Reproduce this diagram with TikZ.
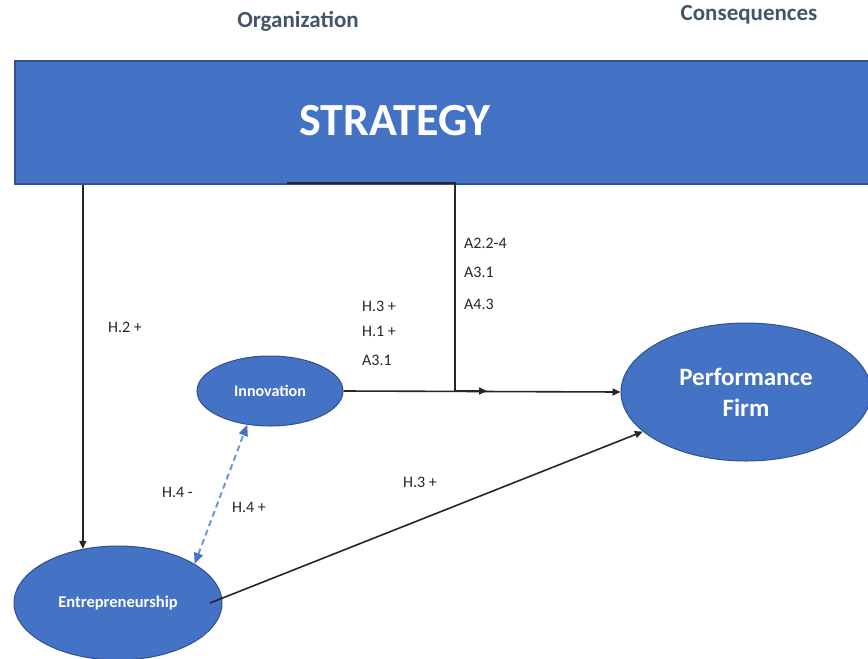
\documentclass[tikz,border=0pt]{standalone}
\usepackage{fontspec}
\setmainfont{Carlito}
\usetikzlibrary{shapes.geometric,arrows.meta}
\definecolor{boxblue}{HTML}{4472C4}
\definecolor{edgeblue}{HTML}{2F528F}
\definecolor{headgray}{HTML}{44546A}
\definecolor{labgray}{HTML}{262626}
\definecolor{dashblue}{HTML}{6A97DD}
\tikzset{
  construct/.style={ellipse, fill=boxblue, draw=edgeblue, line width=1pt, text=white, inner sep=0pt},
  heading/.style={font=\bfseries\fontsize{23}{26}\selectfont, text=headgray},
  hyp/.style={font=\fontsize{16}{18}\selectfont, text=labgray, anchor=west, inner sep=0pt},
  link/.style={draw=black!85, line width=1.6pt, -{Triangle[length=8pt,width=7pt]}},
  bilink/.style={draw=dashblue, line width=2pt, dash pattern=on 6pt off 4pt,
    {Triangle[length=11pt,width=9pt,color=boxblue]}-{Triangle[length=11pt,width=9pt,color=boxblue]}},
}
\begin{document}
\begin{tikzpicture}[x=1pt,y=-1pt]
    \clip (0,0) rectangle (868,659);

    \node[heading] (org) at (298,21) {Organization};
    \node[heading] (cons) at (749,15) {Consequences};

    \node[rectangle, fill=boxblue, draw=edgeblue, line width=1.5pt, anchor=north west,
      minimum width=880pt, minimum height=123pt] (strategy) at (14,60) {};
    \node[font=\bfseries\fontsize{46}{50}\selectfont, text=white] (strat) at (395,121) {STRATEGY};

    \node[construct, minimum width=146pt, minimum height=70pt, font=\bfseries\fontsize{16}{20}\selectfont] (inno) at (270,391) {Innovation};
    \node[construct, minimum width=208pt, minimum height=114pt, font=\bfseries\fontsize{16.5}{20}\selectfont] (entre) at (118,603) {Entrepreneurship};
    \node[construct, minimum width=250pt, minimum height=138pt, align=center, font=\bfseries\fontsize{25}{31}\selectfont] (perf) at (746,392) {Performance\\Firm};

    \coordinate (s2) at (287,183);
    \coordinate (bend) at (455,391);
    \coordinate (merge) at (487,391);

    \draw[link] (entre.123 |- strategy.south) -- (entre.123);
    \draw[link] (s2) -| (bend) -- (merge);
    \draw[link] (inno.east) -- (perf.west);
    \draw[link] ([xshift=92pt]entre.center) -- (perf.201);
    \draw[bilink] (entre.27) -- (inno.236);

    \node[hyp] (h2) at (108,327) {H.2 +};
    \node[hyp] (h3a) at (362,306) {H.3 +};
    \node[hyp] (h1) at (362,331) {H.1 +};
    \node[hyp] (a31a) at (362,360) {A3.1};
    \node[hyp] (a22) at (464,243) {A2.2-4};
    \node[hyp] (a31b) at (464,272) {A3.1};
    \node[hyp] (a43) at (464,304) {A4.3};
    \node[hyp] (h4m) at (162,492) {H.4 -};
    \node[hyp] (h4p) at (232,507) {H.4 +};
    \node[hyp] (h3b) at (403,482) {H.3 +};
\end{tikzpicture}
\end{document}
